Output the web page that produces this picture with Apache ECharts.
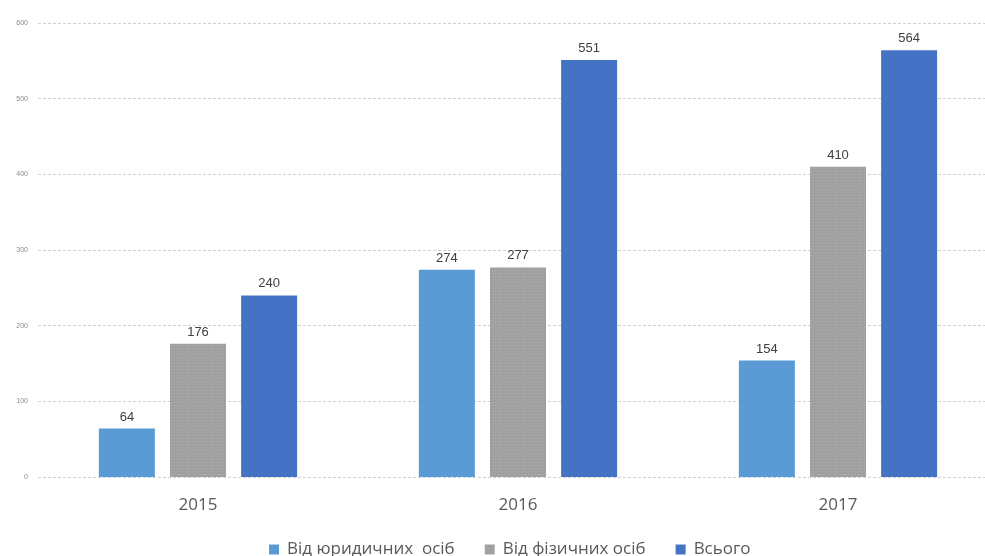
<!DOCTYPE html>
<html><head><meta charset="utf-8">
<script src="https://cdn.jsdelivr.net/npm/echarts@6/dist/echarts.min.js"></script>
<style>html,body{margin:0;padding:0;background:#fff;overflow:hidden;width:985px;height:556px}#c{width:998px;height:556px}</style>
</head><body><div id="c"></div>
<script>
const categories = ['2015', '2016', '2017'];
const legalEntities = [64, 274, 154];
const individuals = [176, 277, 410];
const total = [240, 551, 564];
const seriesNames = ['Від юридичних  осіб', 'Від фізичних осіб', 'Всього'];

const chart = echarts.init(document.getElementById('c'));
const label = {show: true, position: 'top', color: '#404040', fontSize: 13, fontFamily: 'Liberation Sans', distance: 5};
chart.setOption({
  animation: false,
  grid: {left: 38, top: 23, right: 0, bottom: 79, containLabel: false},
  legend: {
    top: 536, left: 264, itemWidth: 10, itemHeight: 10, itemGap: 30, icon: 'rect',
    textStyle: {color: '#595959', fontSize: 17, fontFamily: 'Open Sans', padding: [0, 0, 0, 3]},
    data: seriesNames
  },
  xAxis: {
    type: 'category', data: categories,
    axisLine: {show: false}, axisTick: {show: false},
    axisLabel: {color: '#595959', fontSize: 17, margin: 20, fontFamily: 'Open Sans'}
  },
  yAxis: {
    type: 'value', min: 0, max: 600, interval: 100,
    axisLabel: {color: '#8a8a8a', fontSize: 7, margin: 10},
    splitLine: {lineStyle: {color: '#d0d0d0', type: [3, 2], width: 1}}
  },
  series: [
    {name: seriesNames[0], type: 'bar', data: legalEntities, barWidth: 56, barGap: '27%',
     itemStyle: {color: '#5B9BD5'}, label},
    {name: seriesNames[1], type: 'bar', data: individuals, barWidth: 56, barGap: '27%',
     itemStyle: {color: '#a0a0a0', decal: {symbol: 'rect', symbolSize: 1, color: 'rgba(255,255,255,0.15)', dashArrayX: [1, 2], dashArrayY: [1, 2]}}, label},
    {name: seriesNames[2], type: 'bar', data: total, barWidth: 56, barGap: '27%',
     itemStyle: {color: '#4472C4'}, label}
  ]
});
</script></body></html>
